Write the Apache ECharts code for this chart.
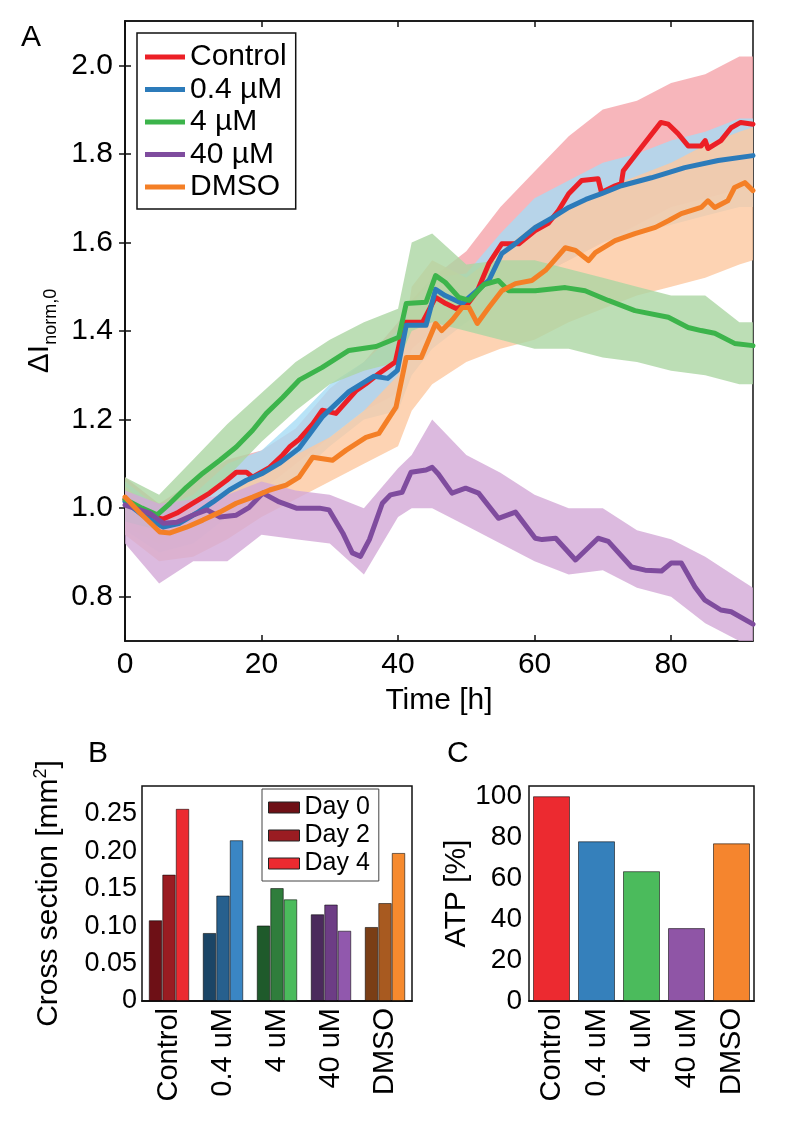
<!DOCTYPE html>
<html>
<head>
<meta charset="utf-8">
<script src="https://cdn.jsdelivr.net/npm/echarts@6/dist/echarts.min.js"></script>
<style>html,body{margin:0;padding:0;background:#fff}#c{width:800px;height:1129px}</style>
</head>
<body>
<div id="c"></div>
<script>
// ---------- Panel A: smoothed lines ----------
const lineNames = ['Control', '0.4 µM', '4 µM', '40 µM', 'DMSO'];
const timeControl = [0, 2.5, 5.5, 7.6, 9.9, 12.4, 14.9, 16.3, 17.8, 18.7, 21.2, 23.1, 24.1, 25.5, 27.5, 28.9, 30.9, 33.9, 35.3, 37.2, 39.6, 40.9, 43.6, 45.5, 47, 48.5, 50, 51.6, 53.3, 55.2, 57.7, 60.1, 62, 63.5, 65, 66.9, 69.3, 69.8, 71.8, 72.7, 73, 75.6, 78.5, 79.6, 81, 82.5, 84.4, 85, 85.4, 87.3, 88.8, 90.2, 92];
const valControl = [1.02, 0.99, 0.975, 0.989, 1.011, 1.034, 1.063, 1.081, 1.081, 1.07, 1.092, 1.12, 1.138, 1.155, 1.19, 1.221, 1.214, 1.266, 1.281, 1.304, 1.33, 1.42, 1.42, 1.476, 1.462, 1.451, 1.457, 1.49, 1.552, 1.597, 1.597, 1.627, 1.643, 1.672, 1.71, 1.74, 1.744, 1.713, 1.728, 1.733, 1.762, 1.814, 1.871, 1.867, 1.846, 1.818, 1.818, 1.83, 1.812, 1.83, 1.859, 1.871, 1.867];
const time04 = [0, 2.5, 5.6, 8, 10.5, 12.9, 15.3, 17.8, 20.2, 22.6, 25.5, 28.9, 32.8, 36.5, 38.5, 39.9, 41.2, 44.1, 45.5, 46.9, 49.4, 50.4, 53.3, 55.2, 57, 60.1, 62.5, 65, 67.5, 69.8, 72.7, 77.1, 82, 86.9, 92];
const val04 = [1.015, 0.985, 0.957, 0.966, 0.989, 1.014, 1.041, 1.063, 1.079, 1.101, 1.135, 1.206, 1.263, 1.298, 1.293, 1.311, 1.413, 1.413, 1.494, 1.48, 1.462, 1.476, 1.514, 1.575, 1.595, 1.634, 1.655, 1.679, 1.697, 1.71, 1.728, 1.746, 1.769, 1.785, 1.796];
const time4 = [0, 2.5, 4.7, 6.6, 9, 11.4, 13.9, 16.3, 18.7, 20.7, 23.1, 25.5, 28.9, 32.8, 36.8, 40.1, 41.2, 44.1, 45.5, 46.9, 48.9, 50.4, 52.6, 54.7, 56.2, 60.1, 64.5, 67.4, 70.8, 74.7, 79.6, 82.5, 84.4, 86.4, 89.3, 92];
const val4 = [1.02, 1.0, 0.985, 1.011, 1.047, 1.079, 1.108, 1.138, 1.176, 1.214, 1.25, 1.289, 1.318, 1.356, 1.365, 1.386, 1.462, 1.465, 1.525, 1.51, 1.476, 1.469, 1.505, 1.514, 1.491, 1.491, 1.498, 1.491, 1.469, 1.446, 1.431, 1.408, 1.401, 1.395, 1.372, 1.367];
const time40 = [0, 2.2, 3.6, 5.6, 7.6, 9.9, 12, 13.9, 16.3, 18.2, 20.2, 22.6, 25.1, 28.5, 29.9, 31.9, 33.3, 34.5, 35.8, 37.7, 38.9, 40.6, 41.9, 44.1, 45, 45.9, 47.9, 49.9, 51.8, 54.7, 57.2, 60.1, 61.1, 63.1, 66, 69.3, 70.8, 74.2, 76.2, 78.6, 80, 81.5, 83.5, 84.9, 87.3, 88.8, 92];
const val40 = [1.007, 0.996, 0.989, 0.966, 0.968, 0.984, 0.996, 0.98, 0.984, 1.002, 1.034, 1.014, 1.0, 1.0, 0.996, 0.944, 0.899, 0.891, 0.929, 1.011, 1.03, 1.036, 1.081, 1.086, 1.092, 1.077, 1.034, 1.045, 1.034, 0.977, 0.991, 0.932, 0.929, 0.932, 0.883, 0.932, 0.925, 0.867, 0.86, 0.858, 0.876, 0.876, 0.822, 0.793, 0.77, 0.766, 0.738];
const timeDMSO = [0, 2.2, 5.1, 6.6, 9, 11.4, 13.9, 16.3, 18.7, 21.2, 23.6, 25.5, 27.5, 30.4, 32.4, 35.3, 37.2, 39.7, 41.2, 43.4, 45.5, 46.4, 47.9, 49.4, 50.4, 51.6, 53.3, 55.2, 57.2, 59.6, 61.6, 64.5, 66, 67.9, 68.9, 71.8, 74.7, 77.7, 79.6, 81.5, 84.4, 85.4, 86.4, 88.3, 89.3, 90.8, 92];
const valDMSO = [1.025, 0.989, 0.946, 0.944, 0.957, 0.973, 0.991, 1.011, 1.025, 1.041, 1.052, 1.07, 1.115, 1.108, 1.131, 1.16, 1.169, 1.228, 1.34, 1.34, 1.417, 1.401, 1.424, 1.453, 1.453, 1.417, 1.453, 1.491, 1.507, 1.514, 1.537, 1.588, 1.582, 1.559, 1.577, 1.604, 1.62, 1.634, 1.649, 1.665, 1.679, 1.694, 1.679, 1.694, 1.724, 1.735, 1.717];

// ---------- Panel A: spread of raw points (lower / upper envelope) ----------
const cloudT = [0, 5, 10, 15, 20, 25, 30, 35, 40, 42, 45, 50, 55, 60, 65, 70, 75, 80, 85, 90, 92];
const cloudControlLo = [0.96, 0.92, 0.96, 1.02, 1.04, 1.10, 1.16, 1.22, 1.26, 1.36, 1.40, 1.42, 1.48, 1.52, 1.56, 1.60, 1.64, 1.68, 1.70, 1.72, 1.72];
const cloudControlHi = [1.07, 1.01, 1.06, 1.11, 1.13, 1.18, 1.27, 1.33, 1.42, 1.47, 1.52, 1.58, 1.68, 1.76, 1.84, 1.90, 1.92, 1.96, 1.98, 2.02, 2.02];
const cloud04Lo = [0.95, 0.90, 0.92, 0.98, 1.02, 1.07, 1.14, 1.20, 1.22, 1.30, 1.36, 1.42, 1.48, 1.52, 1.56, 1.60, 1.62, 1.64, 1.66, 1.68, 1.68];
const cloud04Hi = [1.06, 1.00, 1.03, 1.10, 1.13, 1.20, 1.28, 1.33, 1.40, 1.46, 1.52, 1.53, 1.62, 1.70, 1.74, 1.78, 1.80, 1.83, 1.85, 1.88, 1.88];
const cloudDMSOLo = [0.94, 0.88, 0.89, 0.93, 0.98, 1.02, 1.06, 1.10, 1.14, 1.22, 1.28, 1.33, 1.36, 1.38, 1.42, 1.45, 1.48, 1.50, 1.52, 1.55, 1.56];
const cloudDMSOHi = [1.05, 0.98, 1.00, 1.04, 1.08, 1.12, 1.16, 1.22, 1.30, 1.50, 1.56, 1.52, 1.58, 1.64, 1.68, 1.72, 1.75, 1.78, 1.82, 1.85, 1.86];
const cloud4Lo = [0.97, 0.95, 1.01, 1.07, 1.15, 1.22, 1.28, 1.31, 1.33, 1.40, 1.42, 1.40, 1.38, 1.36, 1.36, 1.34, 1.33, 1.31, 1.30, 1.28, 1.28];
const cloud4Hi = [1.07, 1.03, 1.11, 1.19, 1.26, 1.33, 1.38, 1.42, 1.45, 1.60, 1.62, 1.55, 1.56, 1.56, 1.54, 1.52, 1.50, 1.48, 1.48, 1.42, 1.42];
const cloud40Lo = [0.92, 0.83, 0.88, 0.88, 0.94, 0.93, 0.92, 0.85, 0.98, 1.00, 1.00, 0.96, 0.92, 0.88, 0.85, 0.86, 0.82, 0.80, 0.74, 0.70, 0.70];
const cloud40Hi = [1.04, 1.01, 1.02, 1.03, 1.06, 1.04, 1.03, 1.00, 1.09, 1.12, 1.20, 1.12, 1.08, 1.03, 1.00, 1.00, 0.95, 0.93, 0.89, 0.84, 0.82];

const xTicksA = [0, 20, 40, 60, 80];
const yTicksA = [0.8, 1.0, 1.2, 1.4, 1.6, 1.8, 2.0];

// ---------- Panel B / C ----------
const groups = ['Control', '0.4 uM', '4 uM', '40 uM', 'DMSO'];
const dayNames = ['Day 0', 'Day 2', 'Day 4'];
const crossDay0 = [0.108, 0.091, 0.101, 0.116, 0.099];
const crossDay2 = [0.169, 0.141, 0.151, 0.129, 0.131];
const crossDay4 = [0.257, 0.215, 0.136, 0.094, 0.198];
const yTicksB = [0, 0.05, 0.10, 0.15, 0.20, 0.25];
const atp = [100, 78, 63.4, 35.6, 77];
const yTicksC = [0, 20, 40, 60, 80, 100];

// ---------- styles ----------
const FONT = "'Liberation Sans', Arial, Helvetica, sans-serif";
const lineColors = ['#ec1f26', '#2c7bba', '#3cb44b', '#7f4c9e', '#f47f26'];
const cloudColors = ['#f5a4aa', '#a6dcf5', '#abd6a2', '#d3a9d7', '#fdc8a0'];
const dayShades = [
  ['#6e1016', '#1b4566', '#1f5a2b', '#4b2a5c', '#7a3e16'],
  ['#9a1c22', '#27608e', '#2f7d3c', '#6d3d85', '#a85a20'],
  ['#ec2a30', '#3a86c4', '#4bbb5c', '#9158ad', '#f68a2e']
];
const atpColors = ['#ec2a30', '#3580bb', '#4bbb5c', '#8f55a6', '#f5852e'];

const zip = (t, v) => t.map((x, i) => [x, v[i]]);
const AX = { lineStyle: { color: '#111', width: 1.5 } };

function band(lo, hi, color, name) {
  return {
    type: 'custom', name: name, xAxisIndex: 0, yAxisIndex: 0, silent: true, z: 1,
    data: [[cloudT[0], lo[0]]],
    renderItem: function (params, api) {
      const pts = [];
      for (let i = 0; i < cloudT.length; i++) pts.push(api.coord([cloudT[i], hi[i]]));
      for (let i = cloudT.length - 1; i >= 0; i--) pts.push(api.coord([cloudT[i], lo[i]]));
      return { type: 'polygon', shape: { points: pts }, style: { fill: color, opacity: 0.8 } };
    }
  };
}

const lineTimes = [timeControl, time04, time4, time40, timeDMSO];
const lineVals = [valControl, val04, val4, val40, valDMSO];
const lineSeries = lineNames.map((n, i) => ({
  type: 'line', name: n, xAxisIndex: 0, yAxisIndex: 0, z: 5,
  data: zip(lineTimes[i], lineVals[i]), showSymbol: false, symbol: 'none',
  color: lineColors[i],
  lineStyle: { color: lineColors[i], width: 5, join: 'round', cap: 'round' }
}));

const daySeries = [crossDay0, crossDay2, crossDay4].map((arr, d) => ({
  type: 'bar', name: dayNames[d], xAxisIndex: 2, yAxisIndex: 2,
  barGap: '0%', barCategoryGap: '25%',
  color: dayShades[d][0],
  itemStyle: { color: dayShades[d][0], borderColor: 'rgba(0,0,0,0.55)', borderWidth: 1 },
  data: arr.map((v, i) => ({ value: v, itemStyle: { color: dayShades[d][i] } }))
}));

const atpSeries = {
  type: 'bar', name: 'ATP', xAxisIndex: 4, yAxisIndex: 4, barWidth: 37,
  itemStyle: { borderColor: 'rgba(0,0,0,0.55)', borderWidth: 1 },
  data: atp.map((v, i) => ({ value: v, itemStyle: { color: atpColors[i] } }))
};

const chart = echarts.init(document.getElementById('c'), null, { renderer: 'canvas' });
chart.setOption({
  animation: false,
  backgroundColor: '#fff',
  textStyle: { fontFamily: FONT, color: '#000' },
  grid: [
    { left: 125, top: 21, width: 628, height: 620, show: true, borderColor: '#111', borderWidth: 1.5 },
    { left: 142, top: 786, width: 270, height: 215, show: true, borderColor: '#111', borderWidth: 1.5 },
    { left: 529, top: 786, width: 225, height: 215, show: true, borderColor: '#111', borderWidth: 1.5 }
  ],
  xAxis: [
    { type: 'value', gridIndex: 0, min: 0, max: 92, interval: 20, axisLine: AX,
      axisTick: { inside: true, length: 6, lineStyle: { color: '#111', width: 1.5 }, customValues: xTicksA },
      axisLabel: { fontSize: 30, color: '#000', fontFamily: FONT, margin: 9, customValues: xTicksA },
      splitLine: { show: false },
      name: 'Time [h]', nameLocation: 'middle', nameGap: 45,
      nameTextStyle: { fontSize: 30, color: '#000', fontFamily: FONT } },
    { type: 'value', gridIndex: 0, position: 'top', min: 0, max: 92, interval: 20, axisLine: AX,
      axisTick: { inside: true, length: 6, lineStyle: { color: '#111', width: 1.5 }, customValues: xTicksA },
      axisLabel: { show: false }, splitLine: { show: false } },
    { type: 'category', gridIndex: 1, data: groups, axisLine: AX,
      axisTick: { inside: true, alignWithLabel: true, length: 3, lineStyle: { color: '#111' } },
      axisLabel: { rotate: 90, fontSize: 29, color: '#000', fontFamily: FONT, margin: 7, interval: 0 } },
    { type: 'category', gridIndex: 1, position: 'top', data: groups, axisLine: AX,
      axisTick: { inside: true, alignWithLabel: true, length: 3, lineStyle: { color: '#111' } },
      axisLabel: { show: false } },
    { type: 'category', gridIndex: 2, data: groups, axisLine: AX,
      axisTick: { inside: true, alignWithLabel: true, length: 3, lineStyle: { color: '#111' } },
      axisLabel: { rotate: 90, fontSize: 29, color: '#000', fontFamily: FONT, margin: 7, interval: 0 } },
    { type: 'category', gridIndex: 2, position: 'top', data: groups, axisLine: AX,
      axisTick: { inside: true, alignWithLabel: true, length: 3, lineStyle: { color: '#111' } },
      axisLabel: { show: false } }
  ],
  yAxis: [
    { type: 'value', gridIndex: 0, min: 0.7, max: 2.1, axisLine: AX,
      axisTick: { inside: true, length: 6, lineStyle: { color: '#111', width: 1.5 }, customValues: yTicksA },
      axisLabel: { fontSize: 30, color: '#000', fontFamily: FONT, margin: 12, customValues: yTicksA,
        formatter: v => v.toFixed(1) },
      splitLine: { show: false },
      name: '{big|ΔI}{sub|norm,0}', nameLocation: 'middle', nameGap: 64,
      nameTextStyle: { color: '#000', fontFamily: FONT,
        rich: { big: { fontSize: 30, fontFamily: FONT, color: '#000' },
                sub: { fontSize: 18, fontFamily: FONT, color: '#000', padding: [24, 0, 0, 0] } } } },
    { type: 'value', gridIndex: 0, position: 'right', min: 0.7, max: 2.1, axisLine: AX,
      axisTick: { inside: true, length: 6, lineStyle: { color: '#111', width: 1.5 }, customValues: yTicksA },
      axisLabel: { show: false }, splitLine: { show: false } },
    { type: 'value', gridIndex: 1, min: 0, max: 0.2875, interval: 0.05, axisLine: AX,
      axisTick: { inside: true, length: 3, lineStyle: { color: '#111' }, customValues: yTicksB },
      axisLabel: { fontSize: 27, color: '#000', fontFamily: FONT, margin: 5, customValues: yTicksB,
        formatter: v => v === 0 ? '0' : v.toFixed(2) },
      splitLine: { show: false },
      name: '{n|Cross section [mm}{s|2}{n|]}', nameLocation: 'middle', nameGap: 76,
      nameTextStyle: { color: '#000', fontFamily: FONT,
        rich: { n: { fontSize: 30, fontFamily: FONT, color: '#000' },
                s: { fontSize: 18, fontFamily: FONT, color: '#000', padding: [0, 0, 16, 0] } } } },
    { type: 'value', gridIndex: 1, position: 'right', min: 0, max: 0.2875, interval: 0.05, axisLine: AX,
      axisTick: { inside: true, length: 3, lineStyle: { color: '#111' }, customValues: yTicksB },
      axisLabel: { show: false }, splitLine: { show: false } },
    { type: 'value', gridIndex: 2, min: 0, max: 105, interval: 20, axisLine: AX,
      axisTick: { inside: true, length: 3, lineStyle: { color: '#111' }, customValues: yTicksC },
      axisLabel: { fontSize: 28, color: '#000', fontFamily: FONT, margin: 7, customValues: yTicksC },
      splitLine: { show: false },
      name: 'ATP [%]', nameLocation: 'middle', nameGap: 52,
      nameTextStyle: { fontSize: 30, color: '#000', fontFamily: FONT } },
    { type: 'value', gridIndex: 2, position: 'right', min: 0, max: 105, interval: 20, axisLine: AX,
      axisTick: { inside: true, length: 3, lineStyle: { color: '#111' }, customValues: yTicksC },
      axisLabel: { show: false }, splitLine: { show: false } }
  ],
  legend: [
    { data: lineNames, orient: 'vertical', left: 137, top: 33, padding: [9, 9, 7, 8],
      borderColor: '#111', borderWidth: 1.5, backgroundColor: '#fff',
      icon: 'rect', itemWidth: 40, itemHeight: 5, itemGap: 2.5, itemTextGap: 7,
      textStyle: { fontSize: 30, color: '#000', fontFamily: FONT, lineHeight: 30 } },
    { data: dayNames, orient: 'vertical', left: 262, top: 789, padding: [6, 9, 5, 6],
      borderColor: '#444', borderWidth: 1, backgroundColor: '#fff',
      icon: 'rect', itemWidth: 31, itemHeight: 11, itemGap: 3, itemTextGap: 7,
      itemStyle: { borderColor: '#222', borderWidth: 1 },
      textStyle: { fontSize: 25, color: '#000', fontFamily: FONT, lineHeight: 25 } }
  ],
  graphic: [
    { type: 'text', left: 21, top: 23, style: { text: 'A', fontSize: 30, fontFamily: FONT, fill: '#000' } },
    { type: 'text', left: 88, top: 739, style: { text: 'B', fontSize: 30, fontFamily: FONT, fill: '#000' } },
    { type: 'text', left: 447, top: 739, style: { text: 'C', fontSize: 30, fontFamily: FONT, fill: '#000' } }
  ],
  series: [
    band(cloudControlLo, cloudControlHi, cloudColors[0], 'spread Control'),
    band(cloud04Lo, cloud04Hi, cloudColors[1], 'spread 0.4'),
    band(cloudDMSOLo, cloudDMSOHi, cloudColors[4], 'spread DMSO'),
    band(cloud4Lo, cloud4Hi, cloudColors[2], 'spread 4'),
    band(cloud40Lo, cloud40Hi, cloudColors[3], 'spread 40'),
    ...lineSeries,
    ...daySeries,
    atpSeries
  ]
});
</script>
</body>
</html>
